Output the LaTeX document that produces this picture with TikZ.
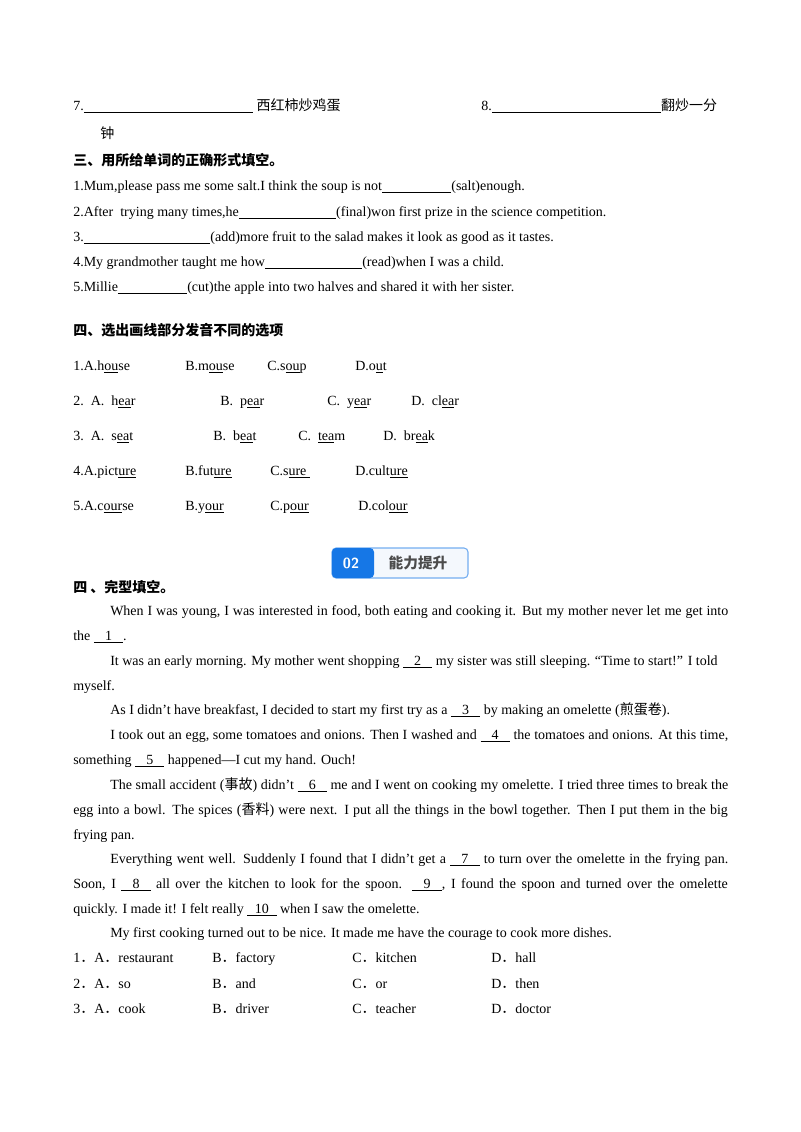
\documentclass[tikz,border=0pt]{standalone}
\usepackage{fontspec}
\setmainfont{Liberation Serif}
\newfontfamily\cjk{Noto Sans CJK SC}
\usetikzlibrary{positioning}
\definecolor{badgeblue}{RGB}{22,119,230}
\definecolor{badgefill}{RGB}{244,248,253}
\newcommand{\blank}[1]{\underline{\hspace{#1}}}
\newcommand{\nb}[1]{\underline{\makebox[22pt]{#1}}}
\newcommand{\fullline}[1]{\makebox[491pt][s]{#1}}
\newcommand{\indline}[1]{\makebox[463.5pt][s]{#1}}

\begin{document}
\begin{tikzpicture}[x=0.75pt,y=-0.75pt,
        txt/.style={anchor=base west,inner sep=0pt,font=\fontsize{10.5pt}{12pt}\selectfont},
        head/.style={txt,font=\fontsize{10.5pt}{12pt}\selectfont\cjk\bfseries},
  ]
    \useasboundingbox (0,0) rectangle (800,1132);

    % part 7-8
    \node[txt] (q7) at (73,110) {7.\blank{127pt}\ {\cjk 西红柿炒鸡蛋}};
    \node[txt] (q8) at (481,110) {8.\blank{127pt}{\cjk 翻炒一分}};
    \node[txt] (q8b) at (100,138) {\cjk 钟};

    % section three
    \node[head] (h3) at (73,165) {三、用所给单词的正确形式填空。};
    \node[txt] (f1) at (73,190) {1.Mum,please pass me some salt.I think the soup is not\blank{52pt}(salt)enough.};
    \node[txt] (f2) at (73,216) {2.After\ \ trying many times,he\blank{73pt}(final)won first prize in the science competition.};
    \node[txt] (f3) at (73,241) {3.\blank{95pt}(add)more fruit to the salad makes it look\ as\ good\ as\ it\ tastes.};
    \node[txt] (f4) at (73,266) {4.My grandmother taught me how\blank{73pt}(read)when I was a child.};
    \node[txt] (f5) at (73,291) {5.Millie\blank{52pt}(cut)the apple into two halves and shared it with her sister.};

    % section four, pronunciation
    \node[head] (h4) at (73,335) {四、选出画线部分发音不同的选项};
    \node[txt] (p1a) at (73,370) {1.A.h\underline{ou}se};
    \node[txt] (p1b) at (185,370) {B.m\underline{ou}se};
    \node[txt] (p1c) at (267,370) {C.s\underline{ou}p};
    \node[txt] (p1d) at (355,370) {D.o\underline{u}t};
    \node[txt] (p2a) at (73,405) {2.\ \ A.\ \ h\underline{ea}r};
    \node[txt] (p2b) at (220,405) {B.\ \ p\underline{ea}r};
    \node[txt] (p2c) at (327,405) {C.\ \ y\underline{ea}r};
    \node[txt] (p2d) at (411,405) {D.\ \ cl\underline{ea}r};
    \node[txt] (p3a) at (73,440) {3.\ \ A.\ \ s\underline{ea}t};
    \node[txt] (p3b) at (213,440) {B.\ \ b\underline{ea}t};
    \node[txt] (p3c) at (298,440) {C.\ \ \underline{tea}m};
    \node[txt] (p3d) at (383,440) {D.\ \ br\underline{ea}k};
    \node[txt] (p4a) at (73,475) {4.A.pict\underline{ure}};
    \node[txt] (p4b) at (185,475) {B.fut\underline{ure}};
    \node[txt] (p4c) at (270,475) {C.s\underline{ure\ }};
    \node[txt] (p4d) at (355,475) {D.cult\underline{ure}};
    \node[txt] (p5a) at (73,510) {5.A.c\underline{our}se};
    \node[txt] (p5b) at (185,510) {B.y\underline{our}};
    \node[txt] (p5c) at (270,510) {C.p\underline{our}};
    \node[txt] (p5d) at (358,510) {D.col\underline{our}};

    % badge
    \draw[badgeblue!60,fill=badgefill,rounded corners=3pt,line width=0.8pt] (332,548) rectangle (468,578);
    \fill[badgeblue,rounded corners=3pt] (332,548) rectangle (374,578);
    \node[inner sep=0pt,text=white,font=\fontsize{11pt}{12pt}\selectfont\sffamily\bfseries] (b02) at (351,563) {02};
    \node[inner sep=0pt,text=black!70,font=\fontsize{11pt}{12pt}\selectfont\cjk\bfseries] (bt) at (418,563) {能力提升};

    % cloze
    \node[head] (h5) at (73,592) {四\ 、完型填空。};
    \node[txt] (c1) at (110,615) {\indline{When I was young, I was interested in food, both eating and cooking it. But my mother never let me get into}};
    \node[txt] (c2) at (73,640) {the \nb{1}.};
    \node[txt] (c3) at (110,665) {It was an early morning. My mother went shopping \nb{2} my sister was still sleeping. “Time to start!” I told};
    \node[txt] (c4) at (73,690) {myself.};
    \node[txt] (c5) at (110,714) {As I didn’t have breakfast, I decided to start my first try as a \nb{3} by making an omelette ({\cjk 煎蛋卷}).};
    \node[txt] (c6) at (110,739) {\indline{I took out an egg, some tomatoes and onions. Then I washed and \nb{4} the tomatoes and onions. At this time,}};
    \node[txt] (c7) at (73,764) {something \nb{5} happened—I cut my hand. Ouch!};
    \node[txt] (c8) at (110,789) {\indline{The small accident ({\cjk 事故}) didn’t \nb{6} me and I went on cooking my omelette. I tried three times to break the}};
    \node[txt] (c9) at (73,814) {\fullline{egg into a bowl. The spices ({\cjk 香料}) were next. I put all the things in the bowl together. Then I put them in the big}};
    \node[txt] (c10) at (73,839) {frying pan.};
    \node[txt] (c11) at (110,863) {\indline{Everything went well. Suddenly I found that I didn’t get a \nb{7} to turn over the omelette in the frying pan.}};
    \node[txt] (c12) at (73,888) {\fullline{Soon, I \nb{8} all over the kitchen to look for the spoon. \nb{9}, I found the spoon and turned over the omelette}};
    \node[txt] (c13) at (73,913) {quickly. I made it! I felt really \nb{10} when I saw the omelette.};
    \node[txt] (c14) at (110,937) {My first cooking turned out to be nice. It made me have the courage to cook more dishes.};

    % options
    \node[txt] (o1a) at (73,962) {1{\cjk ．}A{\cjk ．}restaurant};
    \node[txt] (o1b) at (212,962) {B{\cjk ．}factory};
    \node[txt] (o1c) at (352,962) {C{\cjk ．}kitchen};
    \node[txt] (o1d) at (491,962) {D{\cjk ．}hall};
    \node[txt] (o2a) at (73,988) {2{\cjk ．}A{\cjk ．}so};
    \node[txt] (o2b) at (212,988) {B{\cjk ．}and};
    \node[txt] (o2c) at (352,988) {C{\cjk ．}or};
    \node[txt] (o2d) at (491,988) {D{\cjk ．}then};
    \node[txt] (o3a) at (73,1013) {3{\cjk ．}A{\cjk ．}cook};
    \node[txt] (o3b) at (212,1013) {B{\cjk ．}driver};
    \node[txt] (o3c) at (352,1013) {C{\cjk ．}teacher};
    \node[txt] (o3d) at (491,1013) {D{\cjk ．}doctor};
\end{tikzpicture}
\end{document}
